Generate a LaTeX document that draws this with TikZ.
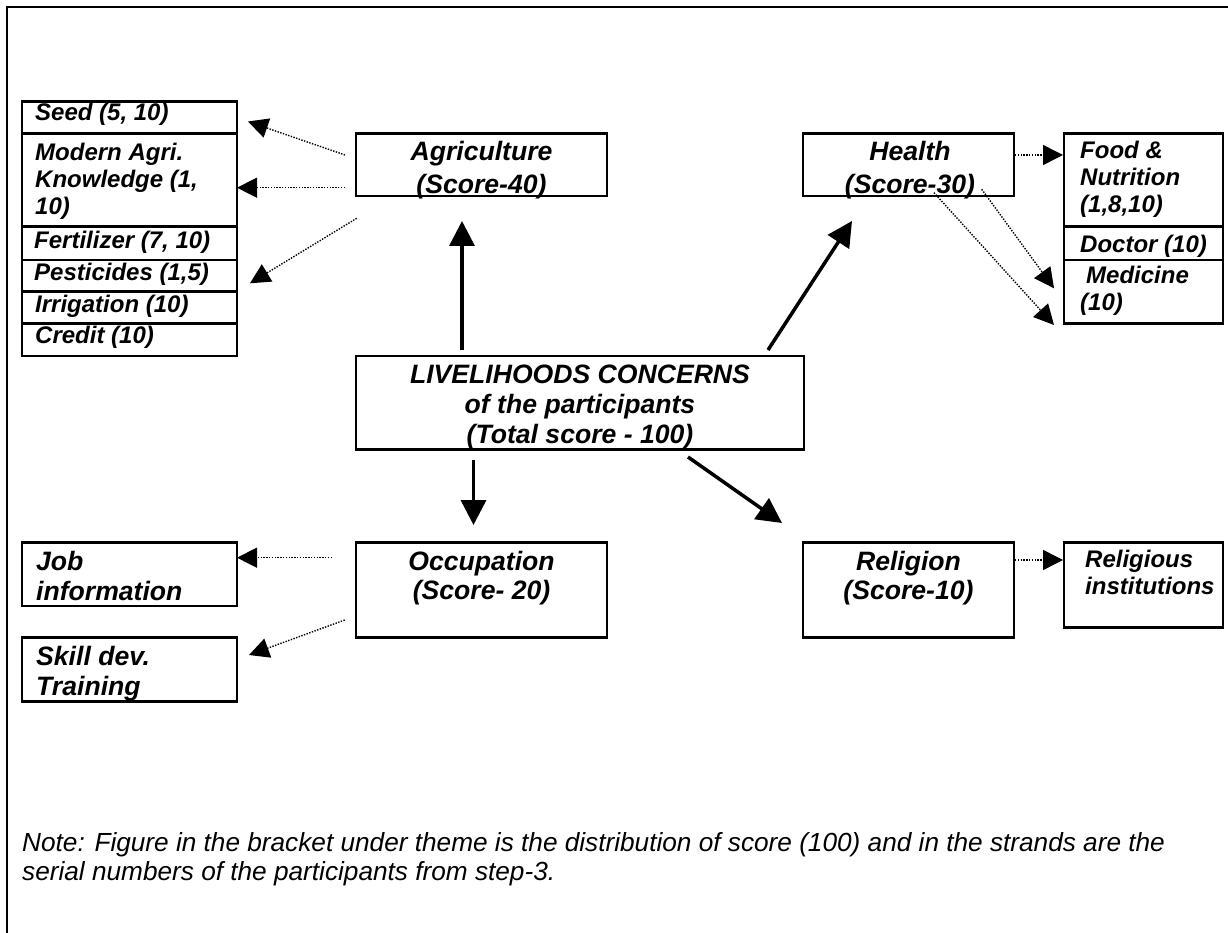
\documentclass[tikz,border=0pt]{standalone}
\usepackage{fontspec}
\setmainfont{Liberation Sans}
\usetikzlibrary{arrows.meta}
\begin{document}
\begin{tikzpicture}[x=1pt,y=-1pt,
  box/.style={draw, line width=2.5pt, outer sep=0pt, inner sep=0pt},
  txt/.style={inner sep=0pt, font=\fontsize{24}{27}\selectfont\bfseries\itshape},
  bigtxt/.style={inner sep=0pt, font=\fontsize{26.6}{29.5}\selectfont\bfseries\itshape},
  ltxt/.style={txt, anchor=north west, align=left},
  bltxt/.style={bigtxt, anchor=north west, align=left},
  ctxt/.style={bigtxt, anchor=north, align=center},
  notetxt/.style={inner sep=0pt, anchor=north west, align=left, font=\fontsize{26.2}{29}\selectfont\itshape},
  solidarrow/.style={line width=3.5pt, -{Triangle[length=25pt,width=25pt]}},
  dotarrow/.style={line width=1.4pt, dash pattern=on 1.4pt off 1.4pt, -{Triangle[length=20pt,width=20pt]}},
  frame/.style={line width=2pt}
]
\useasboundingbox (0,0) rectangle (1228,933);
\draw[frame] (6.5,933) -- (6.5,7.5) -- (1228,7.5);

% left stack (agriculture strands)
\node[box, minimum width=215pt, minimum height=31.6pt] (seed) at (129.5,117.5) {};
\node[box, minimum width=215pt, minimum height=93.4pt] (modern) at (129.5,180) {};
\node[box, minimum width=215pt, minimum height=33.3pt] (fert) at (129.5,243.35) {};
\node[box, minimum width=215pt, minimum height=31.7pt] (pest) at (129.5,275.85) {};
\node[box, minimum width=215pt, minimum height=31.6pt] (irrig) at (129.5,307.5) {};
\node[box, minimum width=215pt, minimum height=32.7pt] (credit) at (129.5,339.65) {};
\node[ltxt] (seed-t) at (35,102.5) {Seed (5, 10)};
\node[ltxt] (modern-t) at (35,142.5) {Modern Agri.\\Knowledge (1,\\10)};
\node[ltxt] (fert-t) at (34,231) {Fertilizer (7, 10)};
\node[ltxt] (pest-t) at (34,262.5) {Pesticides (1,5)};
\node[ltxt] (irrig-t) at (35,294.5) {Irrigation (10)};
\node[ltxt] (credit-t) at (35,326) {Credit (10)};

% themes
\node[box, minimum width=251pt, minimum height=62.7pt] (agri) at (481.5,164.65) {};
\node[ctxt, font=\fontsize{26.6}{32.5}\selectfont\bfseries\itshape] (agri-t) at (481.5,141.5) {Agriculture\\(Score-40)};
\node[box, minimum width=211pt, minimum height=62.7pt] (health) at (908.5,164.65) {};
\node[ctxt, font=\fontsize{26.6}{32.5}\selectfont\bfseries\itshape] (health-t) at (910,141.5) {Health\\(Score-30)};
\node[box, minimum width=448pt, minimum height=93.3pt] (live) at (580,402.65) {};
\node[ctxt, font=\fontsize{26.6}{30}\selectfont\bfseries\itshape] (live-t) at (580,364.5) {LIVELIHOODS CONCERNS\\of the participants\\(Total score - 100)};
\node[box, minimum width=251pt, minimum height=95pt] (occ) at (481.5,590.2) {};
\node[ctxt] (occ-t) at (481.5,551) {Occupation\\(Score- 20)};
\node[box, minimum width=211pt, minimum height=95pt] (rel) at (908.5,590.2) {};
\node[ctxt] (rel-t) at (908.5,551) {Religion\\(Score-10)};

% health strands
\node[box, minimum width=159pt, minimum height=93.4pt] (food) at (1143.5,180) {};
\node[box, minimum width=159pt, minimum height=33.3pt] (doctor) at (1143.5,243.35) {};
\node[box, minimum width=159pt, minimum height=63.3pt] (medicine) at (1143.5,291.65) {};
\node[ltxt] (food-t) at (1080,141) {Food \&\\Nutrition\\(1,8,10)};
\node[ltxt] (doctor-t) at (1080,234.5) {Doctor (10)};
\node[ltxt] (medicine-t) at (1080,266) {\hspace{6pt}Medicine\\(10)};

% religion strand
\node[box, minimum width=159pt, minimum height=84.6pt] (relinst) at (1143.5,585) {};
\node[ltxt] (relinst-t) at (1085,549.5) {Religious\\institutions};

% occupation strands
\node[box, minimum width=215pt, minimum height=63.3pt] (job) at (129.5,574.35) {};
\node[bltxt, font=\fontsize{26.6}{30}\selectfont\bfseries\itshape] (job-t) at (36,551) {Job\\information};
\node[box, minimum width=215pt, minimum height=64pt] (skill) at (129.5,669.7) {};
\node[bltxt, font=\fontsize{26.6}{30}\selectfont\bfseries\itshape] (skill-t) at (36,646) {Skill dev.\\Training};

% note
\node[notetxt] (note) at (22,832) {Note: Figure in the bracket under theme is the distribution of score (100) and in the strands are the\\serial numbers of the participants from step-3.};

% connector end points
\coordinate (a1s) at (462,350);   \coordinate (a1e) at (462,221);
\coordinate (a2s) at (768,350);   \coordinate (a2e) at (852,221);
\coordinate (a3s) at (473.5,460); \coordinate (a3e) at (473.5,525);
\coordinate (a4s) at (688,457);   \coordinate (a4e) at (782,523);
\coordinate (d1s) at (345,155);   \coordinate (d1e) at (248,121.5);
\coordinate (d2s) at (345,187.7); \coordinate (d2e) at (237,187.7);
\coordinate (d3s) at (356.7,218.3); \coordinate (d3e) at (250,283.3);
\coordinate (d4s) at (1015,155);  \coordinate (d4e) at (1063,155);
\coordinate (d5s) at (981.7,189.3); \coordinate (d5e) at (1054,288.3);
\coordinate (d6s) at (934,192.7); \coordinate (d6e) at (1054,325);
\coordinate (d7s) at (332,557.7); \coordinate (d7e) at (237,557.7);
\coordinate (d8s) at (344.7,620); \coordinate (d8e) at (249,655);
\coordinate (d9s) at (1015,560);  \coordinate (d9e) at (1063,560);

\draw[solidarrow] (a1s) -- (a1e);
\draw[solidarrow] (a2s) -- (a2e);
\draw[solidarrow] (a3s) -- (a3e);
\draw[solidarrow] (a4s) -- (a4e);
\draw[dotarrow] (d1s) -- (d1e);
\draw[dotarrow] (d2s) -- (d2e);
\draw[dotarrow] (d3s) -- (d3e);
\draw[dotarrow] (d4s) -- (d4e);
\draw[dotarrow] (d5s) -- (d5e);
\draw[dotarrow] (d6s) -- (d6e);
\draw[dotarrow] (d7s) -- (d7e);
\draw[dotarrow] (d8s) -- (d8e);
\draw[dotarrow] (d9s) -- (d9e);
\end{tikzpicture}
\end{document}
